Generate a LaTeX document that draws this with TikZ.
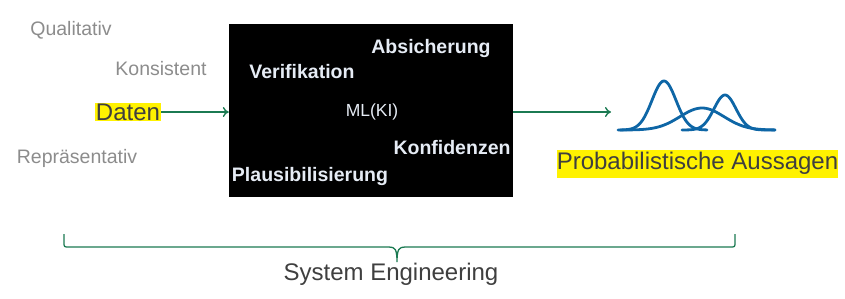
\documentclass[tikz,border=0pt]{standalone}
\usepackage{fontspec}
\setmainfont{Liberation Sans}
\usetikzlibrary{arrows.meta}
\definecolor{flowgreen}{HTML}{1B7A52}
\definecolor{curveblue}{HTML}{0E66A6}
\definecolor{labelgray}{HTML}{8C8C8C}
\definecolor{boxtext}{HTML}{E6ECF5}
\definecolor{darktext}{HTML}{3F3F3F}
\definecolor{marker}{HTML}{FFF200}
\begin{document}
\begin{tikzpicture}[x=1pt,y=-1pt,
  quality/.style={inner sep=0pt,text=labelgray,font=\fontsize{19.5}{23}\selectfont},
  inbox/.style={inner sep=0pt,text=boxtext,font=\fontsize{19.5}{23}\selectfont\bfseries},
  flow/.style={draw=flowgreen,line width=2pt,-{To[length=6pt,width=10pt,line width=1.4pt]}},
  dist/.style={draw=curveblue,line width=2.8pt,line cap=round,smooth,samples=80}]
\useasboundingbox (0,0) rectangle (845,298);

% qualities of the data
\node[quality] (qual) at (71,30) {Qualitativ};
\node[quality] (kons) at (161,69) {Konsistent};
\node[quality] (repr) at (77,158) {Repräsentativ};
\node[inner sep=1pt,fill=marker,text=darktext,font=\fontsize{24}{28}\selectfont] (daten) at (128,112) {Daten};

% ML block
\node[fill=black,minimum width=284pt,minimum height=173pt,inner sep=0pt] (ml) at (371,110.5) {};
\node[inbox] (absi) at (431,48) {Absicherung};
\node[inbox] (veri) at (302,72) {Verifikation};
\node[inner sep=0pt,text=boxtext,font=\fontsize{17.5}{21}\selectfont] (mlki) at (372,112) {ML(KI)};
\node[inbox] (konf) at (452,148) {Konfidenzen};
\node[inbox] (plau) at (310,176) {Plausibilisierung};

% flow
\coordinate (out) at (611,112);
\draw[flow] (daten.east) -- (ml.west |- daten.east);
\draw[flow] (ml.east |- out) -- (out);

% output distributions
\draw[dist] plot[domain=618:707] (\x,{130-49*exp(-((\x-664)/12)^2/2)});
\draw[dist] plot[domain=682:775] (\x,{130-35*exp(-((\x-725)/11)^2/2)});
\draw[dist] plot[domain=620:775] (\x,{130-22*exp(-((\x-702)/22)^2/2)});
\node[inner sep=0pt,minimum height=28pt,minimum width=281pt,fill=marker,text=darktext,font=\fontsize{24}{28}\selectfont] (prob) at (697.5,163.5) {Probabilistische Aussagen};

% system engineering brace
\coordinate (bl) at (64,234);
\coordinate (br) at (735,234);
\coordinate (bt) at (397,262);
\draw[flowgreen,line width=1.3pt]
  (bl) -- (64,242) .. controls (64,247) .. (69,247) -- (389,247)
  .. controls (395,247) and (397,249) .. (bt)
  .. controls (397,249) and (399,247) .. (405,247) -- (730,247)
  .. controls (735,247) .. (735,242) -- (br);
\node[inner sep=0pt,text=darktext,font=\fontsize{24}{28}\selectfont] (se) at (391,274) {System Engineering};
\end{tikzpicture}
\end{document}
